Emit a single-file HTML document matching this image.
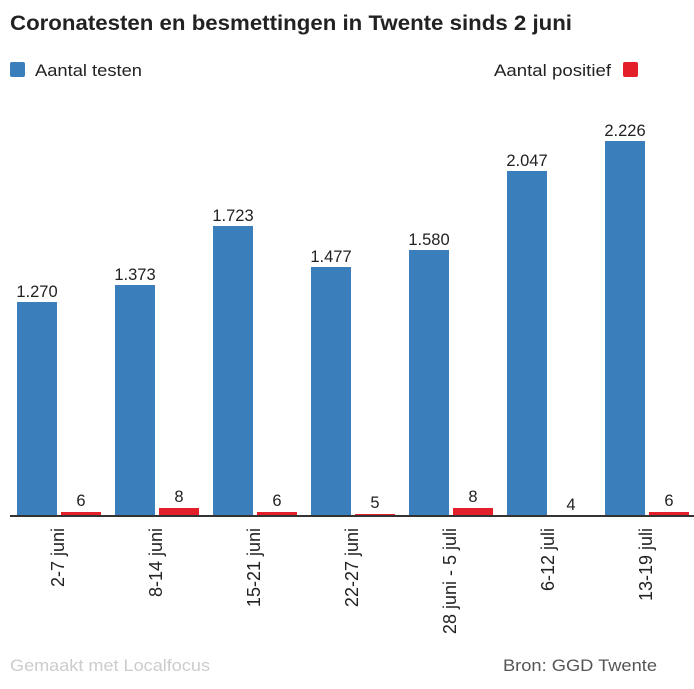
<!DOCTYPE html>
<html><head><style>
body{margin:0;width:694px;height:684px;background:#fff;font-family:"Liberation Sans",sans-serif;overflow:hidden}
</style></head><body>
<svg width="694" height="684" xmlns="http://www.w3.org/2000/svg" font-family="Liberation Sans, sans-serif">
<text x="10" y="30" font-size="21" font-weight="bold" fill="#222" textLength="562" lengthAdjust="spacingAndGlyphs">Coronatesten en besmettingen in Twente sinds 2 juni</text>
<rect x="10" y="62" width="15" height="15" fill="#3a7fbb" rx="2"/>
<text x="35" y="76" font-size="17" fill="#222" textLength="107" lengthAdjust="spacingAndGlyphs">Aantal testen</text>
<text x="494" y="76" font-size="17" fill="#222" textLength="117" lengthAdjust="spacingAndGlyphs">Aantal positief</text>
<rect x="623" y="62" width="15" height="15" fill="#e3202a" rx="2"/>
<g font-size="16.5" fill="#222" text-anchor="middle">
<rect x="17" y="302" width="40" height="214" fill="#3a7fbb"/><text x="37" y="297">1.270</text>
<rect x="61" y="512" width="40" height="4" fill="#e3202a"/><text x="81" y="506">6</text>
<rect x="115" y="285" width="40" height="231" fill="#3a7fbb"/><text x="135" y="280">1.373</text>
<rect x="159" y="508" width="40" height="8" fill="#e3202a"/><text x="179" y="502">8</text>
<rect x="213" y="226" width="40" height="290" fill="#3a7fbb"/><text x="233" y="221">1.723</text>
<rect x="257" y="512" width="40" height="4" fill="#e3202a"/><text x="277" y="506">6</text>
<rect x="311" y="267" width="40" height="249" fill="#3a7fbb"/><text x="331" y="262">1.477</text>
<rect x="355" y="514" width="40" height="2" fill="#e3202a"/><text x="375" y="508">5</text>
<rect x="409" y="250" width="40" height="266" fill="#3a7fbb"/><text x="429" y="245">1.580</text>
<rect x="453" y="508" width="40" height="8" fill="#e3202a"/><text x="473" y="502">8</text>
<rect x="507" y="171" width="40" height="345" fill="#3a7fbb"/><text x="527" y="166">2.047</text>
<text x="571" y="510">4</text>
<rect x="605" y="141" width="40" height="375" fill="#3a7fbb"/><text x="625" y="136">2.226</text>
<rect x="649" y="512" width="40" height="4" fill="#e3202a"/><text x="669" y="506">6</text>
</g>
<rect x="10" y="515" width="684" height="2" fill="#333"/>
<g font-size="18" fill="#222" text-anchor="end">
<text transform="translate(64,528) rotate(-90)">2-7 juni</text>
<text transform="translate(162,528) rotate(-90)">8-14 juni</text>
<text transform="translate(260,528) rotate(-90)">15-21 juni</text>
<text transform="translate(358,528) rotate(-90)">22-27 juni</text>
<text transform="translate(456,528) rotate(-90)">28 juni - 5 juli</text>
<text transform="translate(554,528) rotate(-90)">6-12 juli</text>
<text transform="translate(652,528) rotate(-90)">13-19 juli</text>
</g>
<text x="10" y="671" font-size="17" fill="#ccc" textLength="200" lengthAdjust="spacingAndGlyphs">Gemaakt met Localfocus</text>
<text x="503" y="671" font-size="17" fill="#555" textLength="154" lengthAdjust="spacingAndGlyphs">Bron:  GGD Twente</text>
</svg>
</body></html>
